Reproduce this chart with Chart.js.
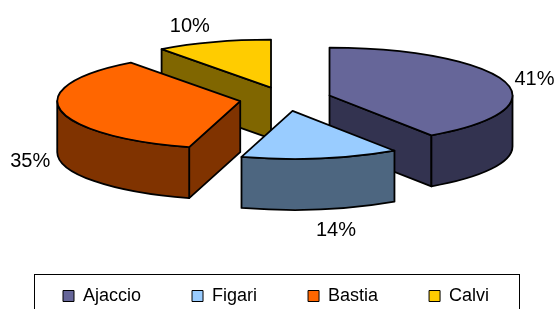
<!DOCTYPE html>
<html>
<head>
<meta charset="utf-8">
<script src="https://cdn.jsdelivr.net/npm/chart.js@4.4.0/dist/chart.umd.min.js"></script>
<style>
  html, body { margin: 0; padding: 0; background: #fff; }
  #wrap { width: 559px; height: 309px; }
</style>
</head>
<body>
<div id="wrap"><canvas id="pieChart"></canvas></div>
<script>
const airports = ['Ajaccio', 'Figari', 'Bastia', 'Calvi'];
const shares = [40.6, 13.9, 35.3, 10.2];
const topColors = ['#666699', '#99CCFF', '#FF6600', '#FFCC00'];
const sideColors = ['#333350', '#4D6680', '#803300', '#806600'];

const FONT = '"Liberation Sans", Arial, sans-serif';
const TILT = 0.262;   // vertical squash of the pie
const DEPTH = 51;     // thickness of the slices

function paint(ctx, fill) {
    ctx.fillStyle = fill;
    ctx.fill();
    ctx.stroke();
}

function radialWall(ctx, s, a) {
    const px = s.x + s.r * Math.cos(a);
    const py = s.y + s.r * TILT * Math.sin(a);
    ctx.beginPath();
    ctx.moveTo(s.x, s.y);
    ctx.lineTo(px, py);
    ctx.lineTo(px, py + DEPTH);
    ctx.lineTo(s.x, s.y + DEPTH);
    ctx.closePath();
    paint(ctx, sideColors[s.i]);
}

function outerWall(ctx, s, a1, a2) {
    const ry = s.r * TILT;
    ctx.beginPath();
    ctx.ellipse(s.x, s.y, s.r, ry, 0, a1, a2);
    ctx.ellipse(s.x, s.y + DEPTH, s.r, ry, 0, a2, a1, true);
    ctx.closePath();
    paint(ctx, sideColors[s.i]);
}

const pie3d = {
    id: 'pie3d',
    beforeDatasetsDraw(chart) {
        const ctx = chart.ctx;
        const arcs = chart.getDatasetMeta(0).data;
        const total = shares.reduce((a, b) => a + b, 0);

        const slices = arcs.map((arc, i) => {
            const mid = (arc.startAngle + arc.endAngle) / 2;
            const off = arc.options.offset;
            return {
                i, mid,
                start: arc.startAngle,
                end: arc.endAngle,
                r: arc.outerRadius,
                x: arc.x + Math.cos(mid) * off,
                y: arc.y - DEPTH / 2 + Math.sin(mid) * off * TILT
            };
        });

        ctx.save();
        ctx.lineWidth = 1.8;
        ctx.strokeStyle = '#000';
        ctx.lineJoin = 'round';

        // back slices first
        slices.slice().sort((a, b) => a.y - b.y).forEach(s => {
            if (Math.cos(s.start) < -1e-9) radialWall(ctx, s, s.start);
            if (Math.cos(s.end) > 1e-9) radialWall(ctx, s, s.end);
            [[0, Math.PI], [2 * Math.PI, 3 * Math.PI], [-2 * Math.PI, -Math.PI]].forEach(([lo, hi]) => {
                const a1 = Math.max(s.start, lo);
                const a2 = Math.min(s.end, hi);
                if (a2 > a1) outerWall(ctx, s, a1, a2);
            });
            ctx.beginPath();
            ctx.moveTo(s.x, s.y);
            ctx.ellipse(s.x, s.y, s.r, s.r * TILT, 0, s.start, s.end);
            ctx.closePath();
            paint(ctx, topColors[s.i]);
        });

        // percentage labels
        ctx.fillStyle = '#000';
        ctx.font = '20px ' + FONT;
        ctx.textAlign = 'center';
        ctx.textBaseline = 'middle';
        slices.forEach(s => {
            const vx = s.r * Math.cos(s.mid);
            const vy = s.r * TILT * Math.sin(s.mid);
            const len = Math.hypot(vx, vy);
            const lx = s.x + vx + vx / len * 30;
            const ly = s.y + vy + vy / len * 25 + (vy > 0 ? DEPTH : 0);
            ctx.fillText(Math.round(shares[s.i] / total * 100) + '%', lx, ly);
        });
        ctx.restore();
        return false;
    },
    afterDraw(chart) {
        const boxes = chart.legend.legendHitBoxes;
        if (!boxes || !boxes.length) return;
        const first = boxes[0];
        const last = boxes[boxes.length - 1];
        const ctx = chart.ctx;
        ctx.save();
        ctx.strokeStyle = '#000';
        ctx.lineWidth = 1;
        const left = Math.round(first.left - 29) + 0.5;
        const right = Math.round(last.left + last.width + 30) + 0.5;
        const top = Math.round(first.top - 13) + 0.5;
        ctx.strokeRect(left, top, right - left, chart.height - top + 5);
        ctx.restore();
    }
};

new Chart(document.getElementById('pieChart'), {
    type: 'pie',
    data: {
        labels: airports,
        datasets: [{
            data: shares,
            backgroundColor: topColors,
            borderColor: '#000',
            borderWidth: 1,
            offset: 46,
            radius: 183
        }]
    },
    options: {
        responsive: true,
        maintainAspectRatio: false,
        animation: false,
        layout: { padding: { left: 12, right: 0, top: 13, bottom: 0 } },
        plugins: {
            tooltip: { enabled: false },
            legend: {
                position: 'bottom',
                align: 'start',
                maxHeight: 73,
                labels: {
                    boxWidth: 11,
                    boxHeight: 11,
                    padding: 51,
                    color: '#000',
                    font: { family: FONT, size: 18 }
                }
            }
        }
    },
    plugins: [pie3d]
});
</script>
</body>
</html>
